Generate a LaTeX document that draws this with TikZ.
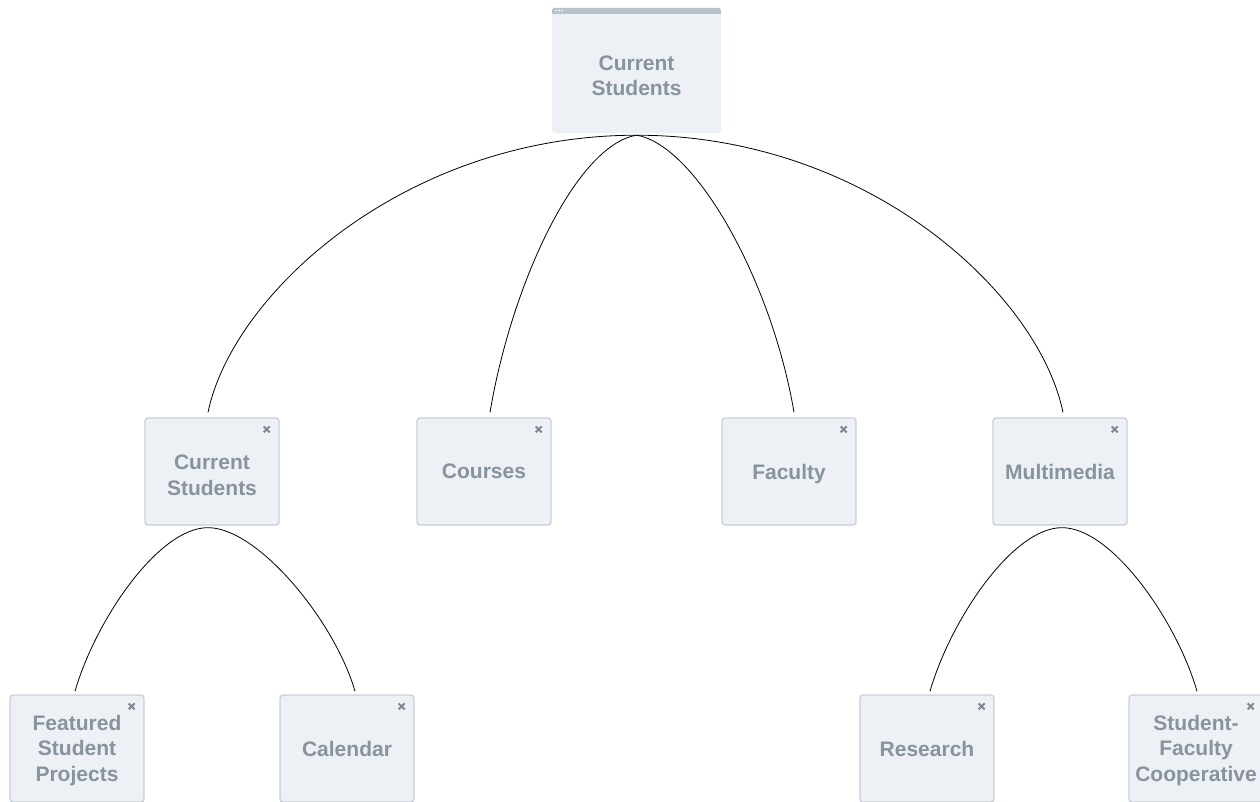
\documentclass[tikz,border=0pt]{standalone}
\usepackage{fontspec}
\setmainfont{Liberation Sans}
\definecolor{boxfill}{HTML}{EDF1F5}
\definecolor{boxline}{HTML}{C6CFD8}
\definecolor{boxtext}{HTML}{87939D}
\definecolor{headbar}{HTML}{B8C2CB}
\definecolor{closex}{HTML}{7E8891}
\tikzset{
  pagebox/.style={draw=boxline, line width=1.3pt, fill=boxfill, rounded corners=3pt,
    minimum width=134pt, minimum height=107pt, inner sep=0pt},
  rootbox/.style={fill=boxfill, rounded corners=3pt,
    minimum width=169pt, minimum height=125pt, inner sep=0pt},
  boxlabel/.style={align=center, text=boxtext, font=\bfseries\fontsize{21}{25.5}\selectfont, inner sep=0pt},
  link/.style={draw=black, line width=0.8pt},
  xmark/.style={draw=closex, line width=2pt}
}
\newcommand{\closemark}[1]{%
  \draw[xmark] ([xshift=-16pt,yshift=-9pt]#1.north east) -- ++(6pt,-6pt)
               ([xshift=-16pt,yshift=-15pt]#1.north east) -- ++(6pt,6pt);}
\begin{document}
\begin{tikzpicture}[x=1pt,y=-1pt]
\useasboundingbox (0,0) rectangle (1260,801);
% root
\node[rootbox] (root) at (636.5,70.5) {};
\fill[headbar, rounded corners=3pt] (root.north west) rectangle ([yshift=-6pt]root.north east);
\fill[headbar] ([yshift=-3pt]root.north west) rectangle ([yshift=-6pt]root.north east);
\fill[white] (556,10.5) circle (0.9) (559,10.5) circle (0.9) (562,10.5) circle (0.9);
\node[boxlabel] (roott) at (636.5,76) {Current\\Students};
% level 2
\node[pagebox] (cs) at (212,471.5) {};
\node[pagebox] (courses) at (484,471.5) {};
\node[pagebox] (faculty) at (789,471.5) {};
\node[pagebox] (multi) at (1060,471.5) {};
% level 3
\node[pagebox] (feat) at (77,748.5) {};
\node[pagebox] (cal) at (347,748.5) {};
\node[pagebox] (res) at (927,748.5) {};
\node[pagebox] (sfc) at (1196,748.5) {};
% labels
\node[boxlabel] (cs-t) at ([yshift=-4pt]cs.center) {Current\\Students};
\node[boxlabel] (courses-t) at (courses.center) {Courses};
\node[boxlabel, text depth=0pt] (faculty-t) at (faculty.center) {Faculty};
\node[boxlabel] (multi-t) at (multi.center) {Multimedia};
\node[boxlabel] (feat-t) at ([yshift=-2pt]feat.center) {Featured\\Student\\Projects};
\node[boxlabel] (cal-t) at (cal.center) {Calendar};
\node[boxlabel] (res-t) at (res.center) {Research};
\node[boxlabel] (sfc-t) at ([yshift=-2pt]sfc.center) {Student-\\Faculty\\Cooperative};
\foreach \n in {cs,courses,faculty,multi,feat,cal,res,sfc} {\closemark{\n}}
% connectors
\draw[link] ([yshift=-2pt]root.south) .. controls +(-230,0) and +(25,-120) .. ([xshift=-4pt,yshift=5pt]cs.north);
\draw[link] ([yshift=-2pt]root.south) .. controls +(-60,10) and +(22,-130) .. ([xshift=6pt,yshift=5pt]courses.north);
\draw[link] ([yshift=-2pt]root.south) .. controls +(60,10) and +(-22,-130) .. ([xshift=5pt,yshift=5pt]faculty.north);
\draw[link] ([yshift=-2pt]root.south) .. controls +(230,0) and +(-25,-120) .. ([xshift=3pt,yshift=5pt]multi.north);
\draw[link] ([xshift=-4pt,yshift=-2pt]cs.south) .. controls +(-50,0) and +(20,-70) .. ([xshift=-2pt,yshift=3pt]feat.north);
\draw[link] ([xshift=-4pt,yshift=-2pt]cs.south) .. controls +(50,0) and +(-20,-70) .. ([xshift=8pt,yshift=3pt]cal.north);
\draw[link] ([xshift=2pt,yshift=-2pt]multi.south) .. controls +(-50,0) and +(20,-70) .. ([xshift=3pt,yshift=3pt]res.north);
\draw[link] ([xshift=2pt,yshift=-2pt]multi.south) .. controls +(50,0) and +(-20,-70) .. ([xshift=1pt,yshift=3pt]sfc.north);
\end{tikzpicture}
\end{document}
